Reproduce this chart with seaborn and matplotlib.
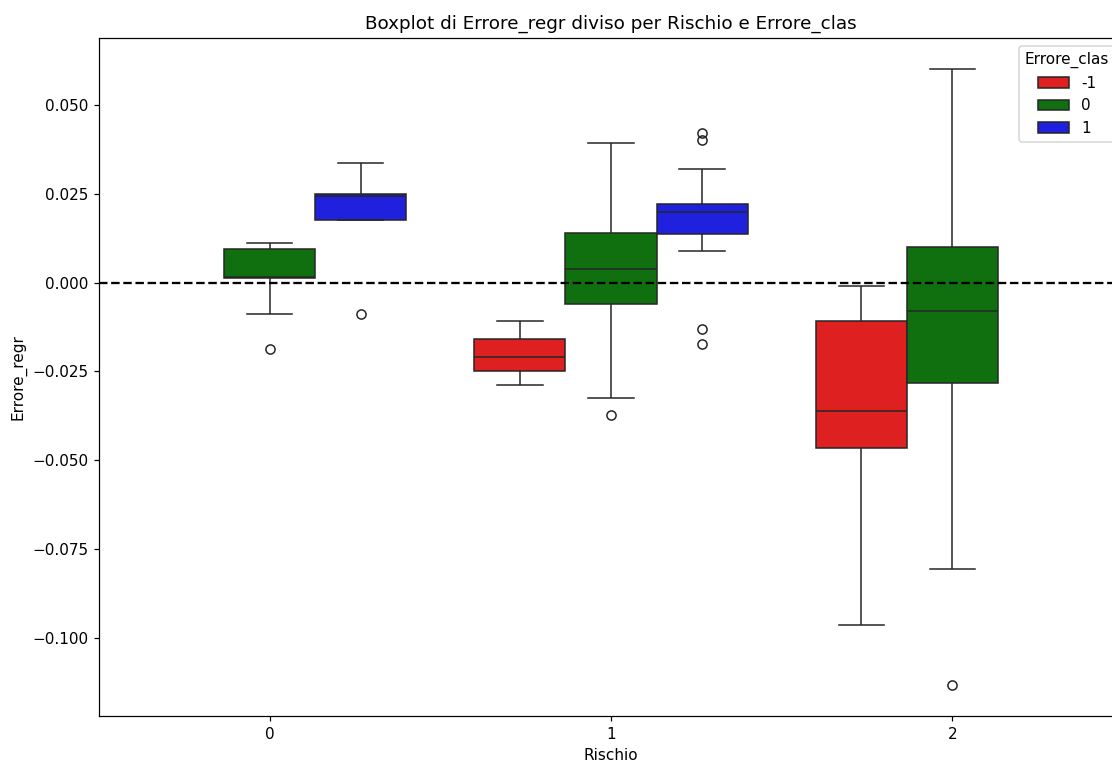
import pandas as pd
import matplotlib
matplotlib.use("Agg")
import matplotlib.pyplot as plt
import seaborn as sns

# valori, per gruppo (Rischio, Errore_clas)
r0_c0 = [-0.0187, -0.0089, 0.0013, 0.0014, 0.0015, 0.0060, 0.0094, 0.0105, 0.0112]
r0_c1 = [-0.0089, 0.0176, 0.0176, 0.0200, 0.0243, 0.0246, 0.0249, 0.0290, 0.0338]
r1_cm1 = [-0.0289, -0.0248, -0.0208, -0.0158, -0.0108]
r1_c0 = [-0.0373, -0.0324, -0.0061, -0.0010, 0.0038, 0.0090, 0.0140, 0.0250, 0.0394]
r1_c1 = [-0.0173, -0.0130, 0.0090, 0.0136, 0.0150, 0.0180, 0.0198,
         0.0205, 0.0212, 0.0221, 0.0319, 0.0402, 0.0422]
r2_cm1 = [-0.0963, -0.0464, -0.0361, -0.0108, -0.0010]
r2_c0 = [-0.1133, -0.0805, -0.0282, -0.0150, -0.0080, 0.0010, 0.0100, 0.0300, 0.0602]

groups = [
    (0, "0", r0_c0), (0, "1", r0_c1),
    (1, "-1", r1_cm1), (1, "0", r1_c0), (1, "1", r1_c1),
    (2, "-1", r2_cm1), (2, "0", r2_c0),
]
hue_levels = ["-1", "0", "1"]
colors = ["red", "green", "blue"]

rows = []
for rischio, clas, vals in groups:
    for v in vals:
        rows.append({"Rischio": rischio, "Errore_clas": clas, "Errore_regr": v})
df = pd.DataFrame(rows)

DPI = 110
fig = plt.figure(figsize=(1112 / DPI, 762 / DPI), dpi=DPI)
ax = fig.add_axes([99 / 1112, 46 / 762, 1024 / 1112, 678 / 762])
sns.boxplot(data=df, x="Rischio", y="Errore_regr", hue="Errore_clas",
            hue_order=hue_levels, palette=dict(zip(hue_levels, colors)), ax=ax)
ax.axhline(0, color="black", linestyle="--", linewidth=1.5)
ax.set_title("Boxplot di Errore_regr diviso per Rischio e Errore_clas")
ax.set_xlabel("Rischio")
ax.set_ylabel("Errore_regr")
ax.legend(title="Errore_clas", loc="upper right")

fig.savefig("out.png", dpi=DPI)
plt.close(fig)
